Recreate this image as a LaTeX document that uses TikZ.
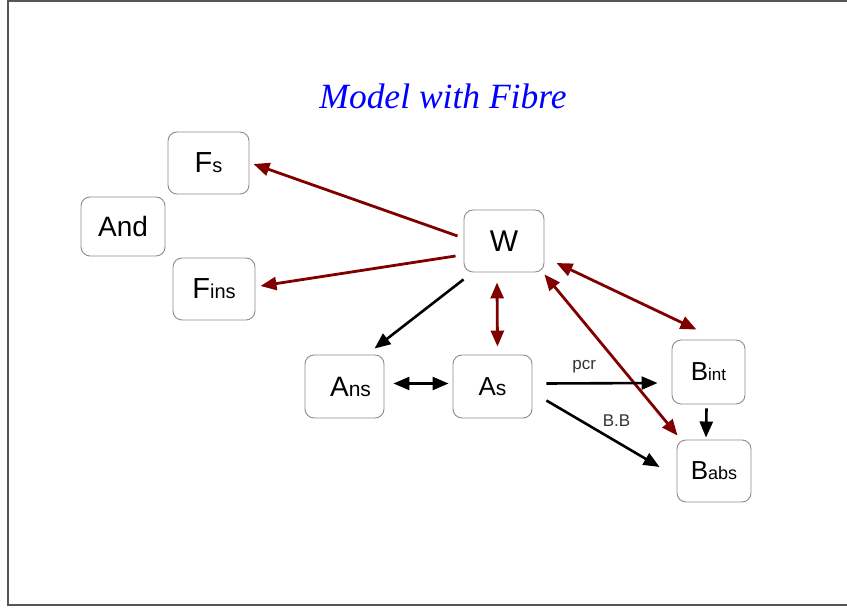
\documentclass[tikz,border=0pt]{standalone}
\usepackage{fontspec}
\setmainfont{Liberation Sans}
\newfontfamily\titlefont{Liberation Serif}
\usetikzlibrary{arrows.meta,calc}
\definecolor{dred}{HTML}{800000}
\definecolor{boxgray}{HTML}{8C8C8C}
\definecolor{framegray}{HTML}{555555}
\definecolor{lblgray}{HTML}{333333}
\newcommand\mylbl[4]{{\fontsize{#1}{#1}\selectfont #2}{\fontsize{#3}{#3}\selectfont #4}}
\begin{document}
\begin{tikzpicture}[x=1pt,y=-1pt,
  bx/.style={draw=boxgray,line width=0.9pt,rounded corners=9pt,inner sep=0pt,text=black},
  redarr/.style={dred,line width=2.8pt,-{Triangle[length=16pt,width=13pt]}},
  redboth/.style={dred,line width=2.8pt,{Triangle[length=16pt,width=13pt]}-{Triangle[length=16pt,width=13pt]}},
  blkarr/.style={black,line width=2.6pt,-{Triangle[length=16pt,width=13pt]}},
  blkboth/.style={black,line width=2.6pt,{Triangle[length=16pt,width=13pt]}-{Triangle[length=16pt,width=13pt]}},
  edgelbl/.style={text=lblgray,font=\fontsize{17}{17}\selectfont,inner sep=0pt}]
\useasboundingbox (0,0) rectangle (847,609);
\draw[framegray,line width=1.5pt] (847,1) -- (8,1) -- (8,605) -- (847,605);
\node[text=blue,font=\titlefont\itshape\fontsize{35.5}{38}\selectfont,inner sep=0pt] (title) at (443,96) {Model with Fibre};
\node[bx,minimum width=81pt,minimum height=62pt] (Fs) at (208.5,163) {\mylbl{29}{F}{20}{s}};
\node[bx,minimum width=84pt,minimum height=59pt] (And) at (123,226.5) {\fontsize{28}{28}\selectfont And};
\node[bx,minimum width=82pt,minimum height=62pt] (Fins) at (214,289) {\mylbl{29}{F}{20}{ins}};
\node[bx,minimum width=80pt,minimum height=62pt] (W) at (504,241) {\fontsize{30}{30}\selectfont W};
\node[bx,minimum width=79pt,minimum height=63pt] (Ans) at (344.5,386.5) {\hspace*{12pt}\mylbl{28}{A}{21}{ns}};
\node[bx,minimum width=79pt,minimum height=63pt] (As) at (492.5,386.5) {\mylbl{26}{A}{21}{s}};
\node[bx,minimum width=73pt,minimum height=64pt] (Bint) at (708.5,372) {\mylbl{26}{B}{17}{int}};
\node[bx,minimum width=74pt,minimum height=62pt] (Babs) at (714,471) {\mylbl{26}{B}{18}{abs}};
% red arrows from W
\draw[redarr] ($(W.west)+(-6,-5)$) -- ($(Fs.east)+(4,1)$);
\draw[redarr] ($(W.west)+(-8,15)$) -- ($(Fins.east)+(5,-3)$);
\draw[redboth] ($(W.south)+(-7,10)$) -- ($(As.north)+(5,-8)$);
\draw[redboth] ($(W.east)+(12,22)$) -- ($(Bint.north)+(-12,-10)$);
\draw[redboth] ($(W.south east)+(0,2)$) -- ($(Babs.north west)+(1,-4)$);
% black arrows
\draw[blkarr] ($(W.south west)+(0,7)$) -- ($(Ans.north)+(30,-6)$);
\draw[blkboth] ($(Ans.east)+(9,-3)$) -- ($(As.west)+(-4,-3)$);
\draw[blkarr] ($(As.east)+(14,-3)$) -- node[edgelbl,pos=0.34,yshift=17pt] (pcr) {pcr} ($(Bint.west)+(-14,11)$);
\draw[blkarr] ($(As.east)+(14,14)$) -- node[edgelbl,pos=0.62,yshift=21pt] (bb) {B.B} ($(Babs.west)+(-17,-4)$);
\draw[blkarr] ($(Bint.south)+(-2,4)$) -- ($(Babs.north)+(-8,-2)$);
\end{tikzpicture}
\end{document}
